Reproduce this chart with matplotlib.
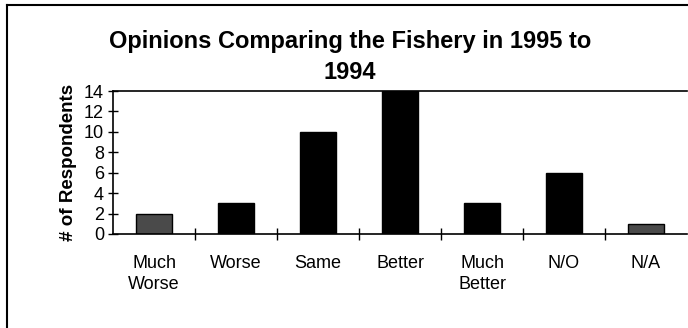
import matplotlib
matplotlib.use("Agg")
import matplotlib.pyplot as plt
from matplotlib.lines import Line2D

plt.rcParams["font.family"] = ["Liberation Sans", "DejaVu Sans"]

# survey answers
categories = ["Much\nWorse", "Worse", "Same", "Better", "Much\nBetter", "N/O", "N/A"]
respondents = [2, 3, 10, 14, 3, 6, 1]
bar_colors = ["#4a4a4a", "black", "black", "black", "black", "black", "#4a4a4a"]

fig = plt.figure(figsize=(6.88, 3.28), dpi=100)
ax = fig.add_axes([113 / 688, 1 - 234 / 328, 574 / 688, 143 / 328])

x = range(len(categories))
ax.bar(x, respondents, width=0.43, color=bar_colors, edgecolor="black", linewidth=1)

ax.set_xlim(-0.5, len(categories) - 0.5)
ax.set_ylim(0, 14)
ax.set_yticks(range(0, 15, 2))
ax.tick_params(axis="y", direction="inout", length=7, width=1, labelsize=13, pad=3)

# category labels centred under bars, ticks between categories
ax.set_xticks(list(x))
ax.set_xticklabels(categories, fontsize=13, linespacing=1.3)
ax.tick_params(axis="x", length=0, pad=15)
ax.set_xticks([i + 0.5 for i in range(len(categories) - 1)], minor=True)
ax.tick_params(axis="x", which="minor", direction="inout", length=8, width=1)

ax.spines["right"].set_visible(False)
for s in ["left", "top", "bottom"]:
    ax.spines[s].set_linewidth(1.2)

ax.set_ylabel("# of Respondents", fontsize=13.5, fontweight="bold", labelpad=5)

# title centred on the whole chart area
fig.text(350 / 688, 1 - 30 / 328, "Opinions Comparing the Fishery in 1995 to\n1994",
         fontsize=17, fontweight="bold", ha="center", va="top", linespacing=1.45)

# chart frame
fig.add_artist(Line2D([7 / 688, 7 / 688], [0, 1 - 5 / 328], color="black", lw=1.5))
fig.add_artist(Line2D([7 / 688, 1], [1 - 5 / 328, 1 - 5 / 328], color="black", lw=1.5))

fig.savefig("out.png", dpi=100)
